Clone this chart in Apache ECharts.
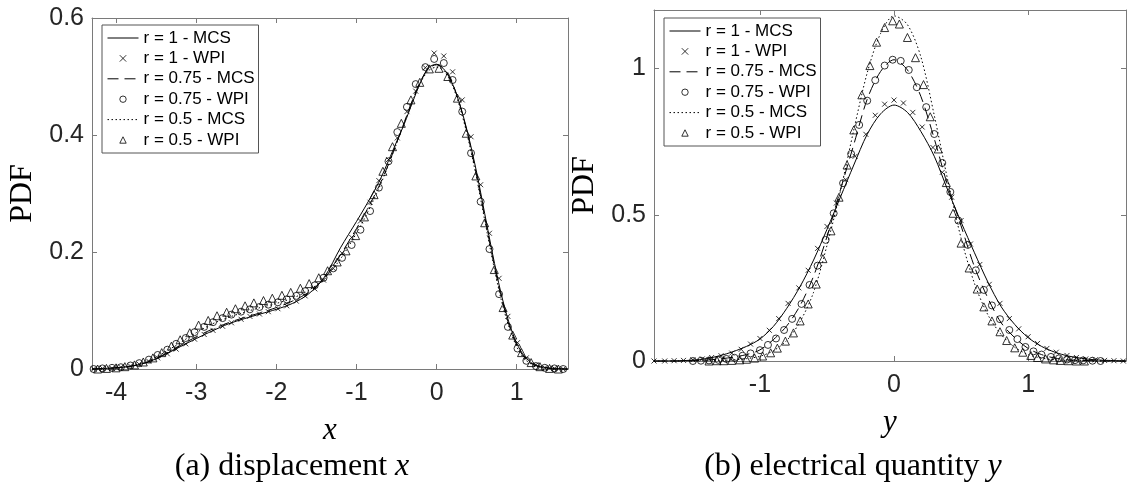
<!DOCTYPE html>
<html><head><meta charset="utf-8">
<script src="https://cdn.jsdelivr.net/npm/echarts@6/dist/echarts.min.js"></script>
<style>html,body{margin:0;padding:0;background:#fff}#c{width:1128px;height:487px}</style>
</head><body><div id="c"></div>
<script>
// ---------- Panel (a): displacement x ----------
const xTicksA = [-4, -3, -2, -1, 0, 1];
const yTicksA = [0, 0.2, 0.4, 0.6];
const lineXA = [-4.3,-4.0,-3.8,-3.6,-3.4,-3.2,-3.0,-2.8,-2.6,-2.4,-2.2,-2.0,-1.8,-1.6,-1.4,-1.2,-1.0,-0.9,-0.8,-0.7,-0.6,-0.5,-0.4,-0.3,-0.2,-0.1,0.0,0.1,0.2,0.3,0.4,0.5,0.6,0.7,0.8,0.9,1.0,1.1,1.2,1.3,1.4,1.5,1.64];
const mcsA_r1   = [0,0.002,0.005,0.012,0.024,0.038,0.052,0.065,0.077,0.086,0.094,0.102,0.112,0.128,0.157,0.207,0.252,0.275,0.299,0.325,0.356,0.388,0.42,0.456,0.49,0.515,0.521,0.511,0.487,0.448,0.397,0.336,0.266,0.196,0.132,0.081,0.044,0.021,0.009,0.004,0.002,0.001,0];
const mcsA_r075 = [0,0.002,0.005,0.012,0.025,0.040,0.055,0.068,0.079,0.088,0.096,0.105,0.116,0.131,0.155,0.195,0.24,0.264,0.29,0.318,0.35,0.386,0.423,0.46,0.492,0.514,0.52,0.512,0.488,0.447,0.394,0.33,0.26,0.19,0.127,0.077,0.041,0.019,0.008,0.003,0.001,0,0];
const mcsA_r05  = [0,0.002,0.006,0.014,0.028,0.045,0.062,0.077,0.088,0.097,0.105,0.112,0.121,0.134,0.155,0.188,0.232,0.257,0.285,0.315,0.349,0.385,0.422,0.458,0.49,0.51,0.516,0.508,0.484,0.443,0.39,0.326,0.255,0.185,0.122,0.073,0.038,0.017,0.007,0.003,0.001,0,0];
const wpiXA = [-4.28,-4.17,-4.05,-3.94,-3.82,-3.71,-3.59,-3.48,-3.36,-3.25,-3.13,-3.02,-2.90,-2.79,-2.67,-2.56,-2.44,-2.33,-2.21,-2.10,-1.98,-1.87,-1.75,-1.64,-1.52,-1.41,-1.29,-1.18,-1.06,-0.95,-0.83,-0.72,-0.60,-0.49,-0.37,-0.26,-0.14,-0.03,0.09,0.20,0.32,0.43,0.55,0.66,0.78,0.89,1.01,1.12,1.24,1.35,1.47,1.58];
const wpiA_r1   = [0,0.001,0.001,0.003,0.005,0.008,0.013,0.019,0.026,0.034,0.043,0.051,0.059,0.066,0.073,0.079,0.085,0.09,0.094,0.098,0.103,0.108,0.116,0.125,0.137,0.152,0.172,0.198,0.225,0.253,0.285,0.322,0.358,0.395,0.44,0.475,0.515,0.54,0.535,0.508,0.46,0.397,0.315,0.232,0.155,0.09,0.045,0.019,0.007,0.002,0.001,0];
const wpiA_r075 = [0,0.001,0.002,0.003,0.006,0.010,0.016,0.024,0.033,0.043,0.053,0.063,0.072,0.080,0.087,0.093,0.098,0.102,0.106,0.110,0.114,0.119,0.125,0.133,0.143,0.156,0.172,0.19,0.212,0.238,0.27,0.31,0.355,0.405,0.448,0.487,0.516,0.53,0.523,0.494,0.44,0.369,0.286,0.205,0.128,0.072,0.035,0.014,0.005,0.002,0.001,0];
const wpiXB = [-4.23,-4.12,-4.00,-3.89,-3.77,-3.66,-3.54,-3.43,-3.31,-3.20,-3.08,-2.97,-2.85,-2.74,-2.62,-2.51,-2.39,-2.28,-2.16,-2.05,-1.93,-1.82,-1.70,-1.59,-1.47,-1.36,-1.24,-1.13,-1.01,-0.90,-0.78,-0.67,-0.55,-0.44,-0.32,-0.21,-0.09,0.03,0.14,0.26,0.37,0.49,0.60,0.72,0.83,0.95,1.06,1.18,1.29,1.41,1.52];
const wpiA_r05  = [0,0.001,0.002,0.004,0.007,0.012,0.019,0.028,0.039,0.05,0.062,0.075,0.083,0.091,0.097,0.103,0.108,0.113,0.117,0.121,0.126,0.131,0.138,0.146,0.156,0.168,0.183,0.202,0.228,0.26,0.298,0.338,0.38,0.42,0.46,0.49,0.513,0.514,0.5,0.463,0.403,0.33,0.25,0.17,0.105,0.058,0.028,0.011,0.004,0.001,0];

// ---------- Panel (b): electrical quantity y ----------
const xTicksB = [-1, 0, 1];
const yTicksB = [0, 0.5, 1];
const lineXB = [-1.79,-1.6,-1.5,-1.4,-1.3,-1.2,-1.1,-1.0,-0.9,-0.8,-0.7,-0.6,-0.5,-0.4,-0.3,-0.2,-0.1,0.0,0.1,0.2,0.3,0.4,0.5,0.6,0.7,0.8,0.9,1.0,1.1,1.2,1.3,1.4,1.5,1.6,1.73];
const mcsB_r1   = [0,0.001,0.003,0.008,0.018,0.032,0.05,0.075,0.118,0.18,0.255,0.345,0.45,0.56,0.67,0.775,0.845,0.875,0.85,0.785,0.7,0.585,0.475,0.37,0.27,0.185,0.125,0.08,0.05,0.03,0.017,0.009,0.004,0.002,0];
const mcsB_r075 = [0,0,0.001,0.003,0.007,0.013,0.022,0.038,0.073,0.12,0.19,0.29,0.425,0.585,0.74,0.895,0.99,1.03,0.995,0.905,0.76,0.6,0.462,0.322,0.215,0.13,0.08,0.043,0.022,0.01,0.004,0.002,0.001,0,0];
const mcsB_r05  = [0,0,0.001,0.001,0.002,0.004,0.008,0.016,0.035,0.07,0.135,0.235,0.395,0.58,0.79,0.985,1.12,1.18,1.15,1.04,0.84,0.62,0.42,0.265,0.158,0.09,0.047,0.022,0.01,0.004,0.002,0.001,0,0,0];
const wpiXC = [-1.79,-1.71,-1.64,-1.57,-1.50,-1.43,-1.36,-1.29,-1.21,-1.14,-1.07,-1.00,-0.93,-0.86,-0.79,-0.71,-0.64,-0.57,-0.50,-0.43,-0.36,-0.29,-0.21,-0.14,-0.07,0.00,0.07,0.14,0.21,0.29,0.36,0.43,0.50,0.57,0.64,0.71,0.79,0.86,0.93,1.00,1.07,1.14,1.21,1.29,1.36,1.43,1.50,1.57,1.64,1.71];
const wpiB_r1   = [0,0,0.001,0.002,0.004,0.007,0.012,0.018,0.027,0.04,0.058,0.077,0.105,0.145,0.197,0.25,0.31,0.385,0.46,0.54,0.62,0.70,0.775,0.84,0.878,0.892,0.882,0.85,0.80,0.73,0.645,0.56,0.48,0.40,0.33,0.262,0.197,0.145,0.11,0.083,0.06,0.043,0.03,0.019,0.012,0.007,0.004,0.002,0.001,0];
const wpiXD = [-1.50,-1.44,-1.38,-1.31,-1.25,-1.19,-1.13,-1.07,-1.00,-0.94,-0.88,-0.82,-0.76,-0.69,-0.63,-0.57,-0.51,-0.45,-0.38,-0.32,-0.26,-0.20,-0.14,-0.07,-0.01,0.05,0.11,0.17,0.24,0.30,0.36,0.42,0.48,0.55,0.61,0.67,0.73,0.79,0.86,0.92,0.98,1.04,1.10,1.17,1.23,1.29,1.35,1.41,1.48,1.54];
const wpiB_r075 = [0,0.001,0.002,0.004,0.007,0.011,0.018,0.026,0.037,0.055,0.077,0.106,0.144,0.195,0.26,0.326,0.414,0.505,0.608,0.708,0.807,0.89,0.96,1.01,1.03,1.026,0.995,0.936,0.868,0.776,0.677,0.578,0.48,0.397,0.31,0.243,0.19,0.143,0.106,0.075,0.048,0.033,0.022,0.014,0.009,0.005,0.003,0.002,0.001,0];
const wpiXE = [-1.38,-1.32,-1.27,-1.21,-1.15,-1.10,-1.04,-0.98,-0.92,-0.87,-0.81,-0.75,-0.70,-0.64,-0.58,-0.53,-0.47,-0.41,-0.35,-0.30,-0.24,-0.18,-0.13,-0.07,-0.01,0.04,0.10,0.16,0.22,0.27,0.33,0.39,0.44,0.50,0.56,0.62,0.67,0.73,0.79,0.84,0.90,0.96,1.02,1.07,1.13,1.19,1.24,1.30,1.36,1.42];
const wpiB_r05  = [0,0.001,0.001,0.002,0.004,0.006,0.01,0.017,0.028,0.044,0.068,0.096,0.137,0.195,0.263,0.35,0.445,0.56,0.67,0.79,0.91,1.01,1.09,1.14,1.163,1.152,1.106,1.037,0.945,0.835,0.725,0.61,0.505,0.403,0.318,0.246,0.185,0.137,0.1,0.07,0.045,0.03,0.019,0.012,0.007,0.004,0.002,0.001,0,0];

const seriesNames = ['r = 1 - MCS','r = 1 - WPI','r = 0.75 - MCS','r = 0.75 - WPI','r = 0.5 - MCS','r = 0.5 - WPI'];

// ---------- styling / building ----------
const AX = '#7a7a7a';
const SANS = 'Liberation Sans, Arial, Helvetica, sans-serif';
const SERIF = 'Liberation Serif, Times New Roman, serif';
const zip = (xs, ys) => xs.map((x, i) => [x, ys[i]]);
const X_PATH = 'path://M0,0L10,10M10,0L0,10';

function xAxis(grid, min, max, ticks, isTop, name) {
  return {
    type: 'value', gridIndex: grid, position: isTop ? 'top' : 'bottom', min, max,
    axisLine: { show: true, onZero: false, lineStyle: { color: AX, width: 1 } },
    axisTick: { show: true, inside: true, length: 5, customValues: ticks, lineStyle: { color: AX, width: 1 } },
    axisLabel: { show: !isTop, customValues: ticks, fontFamily: SANS, fontSize: 25, color: '#262626', margin: 12 },
    splitLine: { show: false },
    name: isTop ? '' : name, nameLocation: 'middle', nameGap: 46, nameMoveOverlap: false,
    nameTextStyle: { fontFamily: SERIF, fontStyle: 'italic', fontSize: 31, color: '#000' }
  };
}
function yAxis(grid, min, max, ticks, isRight) {
  return {
    type: 'value', gridIndex: grid, position: isRight ? 'right' : 'left', min, max,
    axisLine: { show: true, onZero: false, lineStyle: { color: AX, width: 1 } },
    axisTick: { show: true, inside: true, length: 5, customValues: ticks, lineStyle: { color: AX, width: 1 } },
    axisLabel: { show: !isRight, customValues: ticks, fontFamily: SANS, fontSize: 25, color: '#262626', margin: 8 },
    splitLine: { show: false },
    name: isRight ? '' : 'PDF', nameLocation: 'middle', nameGap: 53, nameRotate: 90, nameMoveOverlap: false,
    nameTextStyle: { fontFamily: SERIF, fontSize: 32, color: '#000' }
  };
}
function mcs(name, xs, ys, dash, xi, yi) {
  return {
    type: 'line', name, xAxisIndex: xi, yAxisIndex: yi, data: zip(xs, ys),
    symbol: 'none', smooth: 0.3, clip: false, silent: true, z: 2,
    lineStyle: { color: '#000', width: 1, type: dash },
    itemStyle: { color: 'rgba(0,0,0,0)', borderColor: 'rgba(0,0,0,0)', borderWidth: 0 }
  };
}
function wpi(name, xs, ys, symbol, size, xi, yi) {
  return {
    type: 'line', name, xAxisIndex: xi, yAxisIndex: yi, data: zip(xs, ys),
    symbol, symbolSize: size, showSymbol: true, showAllSymbol: true, clip: false, silent: true, z: 3,
    lineStyle: { width: 0, opacity: 0 },
    itemStyle: { color: 'rgba(0,0,0,0)', borderColor: '#000', borderWidth: 0.8 }
  };
}
function panelSeries(xi, yi, lx, m1, m075, m05, gx1, w1, gx075, w075, gx05, w05) {
  return [
    mcs(seriesNames[0], lx, m1, 'solid', xi, yi),
    wpi(seriesNames[1], gx1, w1, X_PATH, 5, xi, yi),
    mcs(seriesNames[2], lx, m075, [11, 6], xi, yi),
    wpi(seriesNames[3], gx075, w075, 'circle', 7, xi, yi),
    mcs(seriesNames[4], lx, m05, [1.5, 2.5], xi, yi),
    wpi(seriesNames[5], gx05, w05, 'triangle', 8, xi, yi)
  ];
}
const legendData = seriesNames.map((n, i) => i % 2 === 0
  ? { name: n, lineStyle: { width: 1 } }
  : { name: n, lineStyle: { width: 0, opacity: 0 } });
function legend(left, top) {
  return {
    orient: 'vertical', left, top, itemWidth: 31, itemHeight: 8, itemGap: 0.4,
    padding: [3, 4, 3, 5], borderColor: '#555', borderWidth: 1, backgroundColor: '#fff',
    textStyle: { fontFamily: SANS, fontSize: 17, color: '#000', lineHeight: 20 },
    itemStyle: { borderWidth: 0.8 }, selectedMode: false, data: legendData
  };
}

const capStyle = (txt, it) => ({
  text: '{n|' + txt + '}{i|' + it + '}', align: 'center', verticalAlign: 'middle', textAlign: 'center', textVerticalAlign: 'middle',
  fontFamily: SERIF, fontSize: 32, fill: '#000',
  rich: { n: { fontFamily: SERIF, fontSize: 32, fill: '#000', color: '#000' },
          i: { fontFamily: SERIF, fontSize: 32, fontStyle: 'italic', fill: '#000', color: '#000' } }
});

const option = {
  animation: false,
  backgroundColor: '#fff',
  grid: [
    { left: 92, top: 18, width: 476, height: 351, outerBoundsMode: 'none' },
    { left: 654, top: 10, width: 472, height: 351, outerBoundsMode: 'none' }
  ],
  xAxis: [
    xAxis(0, -4.3, 1.64, xTicksA, false, 'x'),
    xAxis(0, -4.3, 1.64, xTicksA, true, ''),
    xAxis(1, -1.79, 1.73, xTicksB, false, 'y'),
    xAxis(1, -1.79, 1.73, xTicksB, true, '')
  ],
  yAxis: [
    yAxis(0, 0, 0.6, yTicksA, false),
    yAxis(0, 0, 0.6, yTicksA, true),
    yAxis(1, 0, 1.2, yTicksB, false),
    yAxis(1, 0, 1.2, yTicksB, true)
  ],
  legend: [legend(102, 25), legend(664, 18)],
  series: [].concat(
    panelSeries(0, 0, lineXA, mcsA_r1, mcsA_r075, mcsA_r05, wpiXA, wpiA_r1, wpiXA, wpiA_r075, wpiXB, wpiA_r05),
    panelSeries(2, 2, lineXB, mcsB_r1, mcsB_r075, mcsB_r05, wpiXC, wpiB_r1, wpiXD, wpiB_r075, wpiXE, wpiB_r05)
  ),
  graphic: [
    { type: 'text', x: 292, y: 467, silent: true, style: capStyle('(a) displacement ', 'x') },
    { type: 'text', x: 853, y: 467, silent: true, style: capStyle('(b) electrical quantity ', 'y') }
  ]
};
const chart = echarts.init(document.getElementById('c'), null, { renderer: 'canvas' });
chart.setOption(option);
</script>
</body></html>
